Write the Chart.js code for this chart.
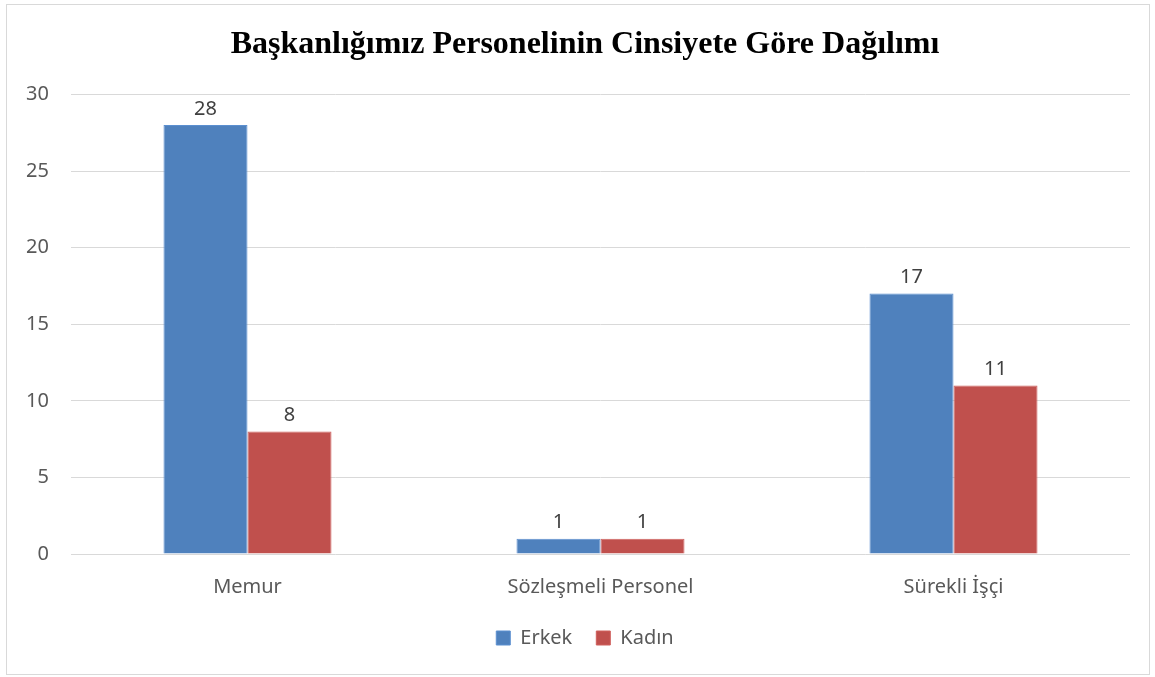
<!DOCTYPE html>
<html>
<head>
<meta charset="utf-8">
<script src="https://cdn.jsdelivr.net/npm/chart.js@4/dist/chart.umd.min.js"></script>
<style>
  html, body { margin: 0; padding: 0; background: #fff; overflow: hidden; }
  #box { position: absolute; left: 6px; top: 4px; width: 1142px; height: 669px; border: 1px solid #d9d9d9; overflow: hidden; }
  #box canvas { display: block; }
</style>
</head>
<body>
<div id="box"><canvas id="c" width="1156" height="669"></canvas></div>
<script>
const categories = ['Memur', 'Sözleşmeli Personel', 'Sürekli İşçi'];
const erkek = [28, 1, 17];
const kadin = [8, 1, 11];
const yTicks = [0, 5, 10, 15, 20, 25, 30];

// value labels above bars
const barLabels = {
  id: 'barLabels',
  afterDatasetsDraw(chart) {
    const ctx = chart.ctx;
    ctx.save();
    ctx.font = '20px "Noto Sans"';
    ctx.fillStyle = '#404040';
    ctx.textAlign = 'center';
    ctx.textBaseline = 'middle';
    chart.data.datasets.forEach((ds, i) => {
      chart.getDatasetMeta(i).data.forEach((bar, j) => {
        ctx.fillText(ds.data[j], bar.x, bar.y - 16);
      });
    });
    ctx.restore();
  }
};

new Chart(document.getElementById('c'), {
  type: 'bar',
  data: {
    labels: categories,
    datasets: [
      { label: 'Erkek', data: erkek, backgroundColor: '#4f81bd', borderColor: '#5b8fd0', borderWidth: 1 },
      { label: 'Kadın', data: kadin, backgroundColor: '#c0504d', borderColor: '#d0605d', borderWidth: 1 }
    ]
  },
  options: {
    responsive: false,
    animation: false,
    categoryPercentage: 0.476,
    barPercentage: 1.0,
    layout: { padding: { left: 0, right: 0, top: 0, bottom: 16 } },
    plugins: {
      title: {
        display: true,
        text: 'Başkanlığımız Personelinin Cinsiyete Göre Dağılımı',
        font: { family: '"Liberation Serif", "Times New Roman", serif', size: 32, weight: 'bold' },
        color: '#000',
        padding: { top: 21, bottom: 30 }
      },
      legend: {
        position: 'bottom',
        labels: {
          font: { family: '"Noto Sans"', size: 20 },
          color: '#595959',
          boxWidth: 14,
          boxHeight: 14,
          padding: 24
        }
      },
      tooltip: { enabled: false }
    },
    scales: {
      x: {
        afterFit: s => { s.height = 50; },
        grid: { display: false, drawTicks: false },
        border: { display: false },
        ticks: { font: { family: '"Noto Sans"', size: 20 }, color: '#595959', padding: 21 }
      },
      y: {
        min: 0,
        max: 30,
        afterBuildTicks: s => { s.ticks = yTicks.map(v => ({ value: v })); },
        afterFit: s => { s.width = 64; },
        grid: { color: '#d9d9d9', lineWidth: 1, drawTicks: false },
        border: { display: false },
        ticks: { font: { family: '"Noto Sans"', size: 20 }, color: '#595959', padding: 22 }
      },
      // empty right margin axis, keeps the plot edge where the original has it
      y2: {
        position: 'right',
        afterFit: s => { s.width = 33; },
        grid: { display: false, drawTicks: false },
        border: { display: false },
        ticks: { display: false }
      }
    }
  },
  plugins: [barLabels]
});
</script>
</body>
</html>
